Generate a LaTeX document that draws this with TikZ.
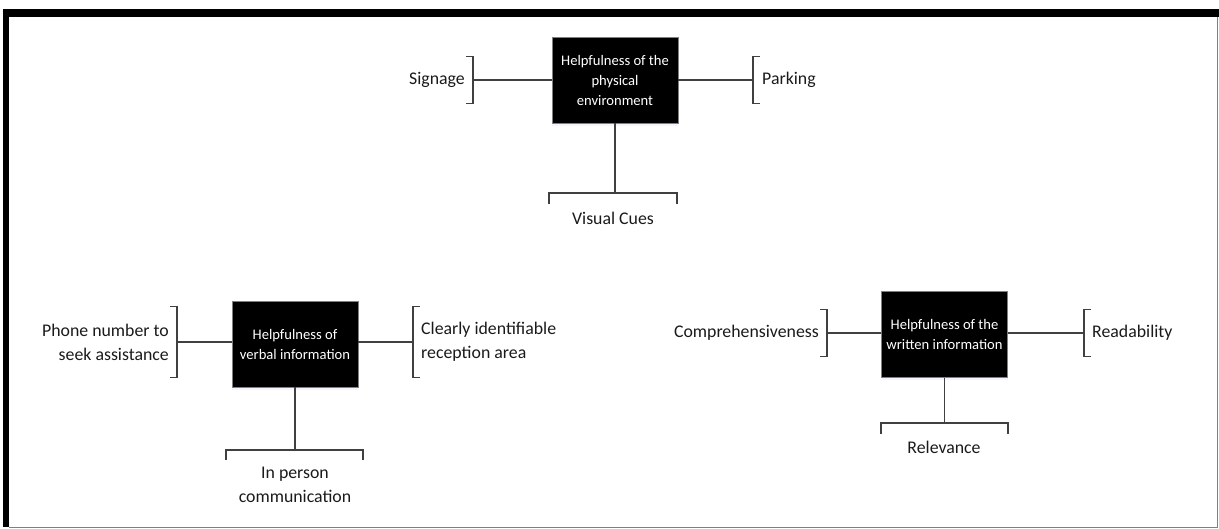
\documentclass[tikz,border=0pt]{standalone}
\usepackage{fontspec}
\setmainfont{Carlito}
\usepackage{tikz}
\usetikzlibrary{calc,shadows}
\definecolor{linegray}{HTML}{404040}
\definecolor{textgray}{HTML}{1A1A1A}
\def\sidebracket[#1](#2)(#3:#4)% Syntax: [draw options] (spine middle) (half length:tick, signed)
    { \draw[#1] ($(#2)+(#4,-#3)$) -- ++({-(#4)},0) -- ++(0,{2*#3}) -- ++(#4,0); }
\def\lowbracket[#1](#2)(#3:#4)% Syntax: [draw options] (spine middle) (half width:tick)
    { \draw[#1] ($(#2)+(-#3,#4)$) -- ++(0,{-(#4)}) -- ++({2*#3},0) -- ++(0,#4); }

\begin{document}
\begin{tikzpicture}[x=1pt,y=-1pt,
    hbox/.style={fill=black, draw=gray, text=white, align=center, inner sep=0pt,
        minimum width=126pt, minimum height=86pt,
        font=\fontsize{14.6}{20}\selectfont,
        drop shadow={fill=blue!8, shadow xshift=0pt, shadow yshift=-3pt, opacity=.5}},
    lbl/.style={text=textgray, inner sep=0pt, font=\fontsize{17.8}{24}\selectfont},
    conn/.style={draw=linegray, line width=1.4pt},
    brk/.style={draw=linegray, line width=1.4pt, line cap=rect}]
   \useasboundingbox (0,0) rectangle (1219,529);

   % frame
   \fill[black] (3,9) rectangle (1219,17);
   \fill[black] (3,9) rectangle (9,527);
   \draw[gray, line width=1pt] (9,527) -- (1217,527) -- (1217,17);

   \begin{scope}% physical environment
     \node[hbox] (physical) at (615,80) {Helpfulness of the\\physical\\environment};
     \node[lbl, anchor=east] (signage) at (465,80) {Signage};
     \node[lbl, anchor=west] (parking) at (762,80) {Parking};
     \node[lbl] (cues) at (613,218) {Visual Cues};
     \coordinate (signageB) at (473,80);
     \coordinate (parkingB) at (753,80);
     \coordinate (cuesB) at (physical.south |- 0,193);
     \draw[conn] (physical.west) -- (signageB);
     \draw[conn] (physical.east) -- (parkingB);
     \draw[conn] (physical.south) -- (cuesB);
     \sidebracket[brk](signageB)(23.5:-6)
     \sidebracket[brk](parkingB)(23.5:6)
     \lowbracket[brk](613,193)(64:10)
   \end{scope}

   \begin{scope}% verbal information
     \node[hbox] (verbal) at (295,344) {Helpfulness of\\verbal information};
     \node[lbl, anchor=east, align=right] (phone) at (169,342) {Phone number to\\seek assistance};
     \node[lbl, anchor=west, align=left] (reception) at (421,342) {Clearly identifiable\\reception area};
     \node[lbl, align=center] (inperson) at (295,485) {In person\\communication};
     \coordinate (phoneB) at (177,342);
     \coordinate (receptionB) at (413,342);
     \coordinate (inpersonB) at (verbal.south |- 0,450);
     \draw[conn] (phoneB) -- (phoneB -| verbal.west);
     \draw[conn] (receptionB) -- (receptionB -| verbal.east);
     \draw[conn] (verbal.south) -- (inpersonB);
     \sidebracket[brk](phoneB)(35.5:-6)
     \sidebracket[brk](receptionB)(35.5:6)
     \lowbracket[brk](294.5,450)(68.5:9)
   \end{scope}

   \begin{scope}% written information
     \node[hbox] (written) at (944.5,334.5) {Helpfulness of the\\written information};
     \node[lbl, anchor=east] (compr) at (819,333) {Comprehensiveness};
     \node[lbl, anchor=west] (readab) at (1092,333) {Readability};
     \node[lbl] (relev) at (944,447) {Relevance};
     \coordinate (comprB) at (827,333);
     \coordinate (readabB) at (1084,333);
     \coordinate (relevB) at (written.south |- 0,423);
     \draw[conn] (comprB) -- (comprB -| written.west);
     \draw[conn] (readabB) -- (readabB -| written.east);
     \draw[conn] (written.south) -- (relevB);
     \sidebracket[brk](comprB)(23.5:-6)
     \sidebracket[brk](readabB)(23.5:6)
     \lowbracket[brk](944.5,423)(63.5:10)
   \end{scope}
\end{tikzpicture}
\end{document}
